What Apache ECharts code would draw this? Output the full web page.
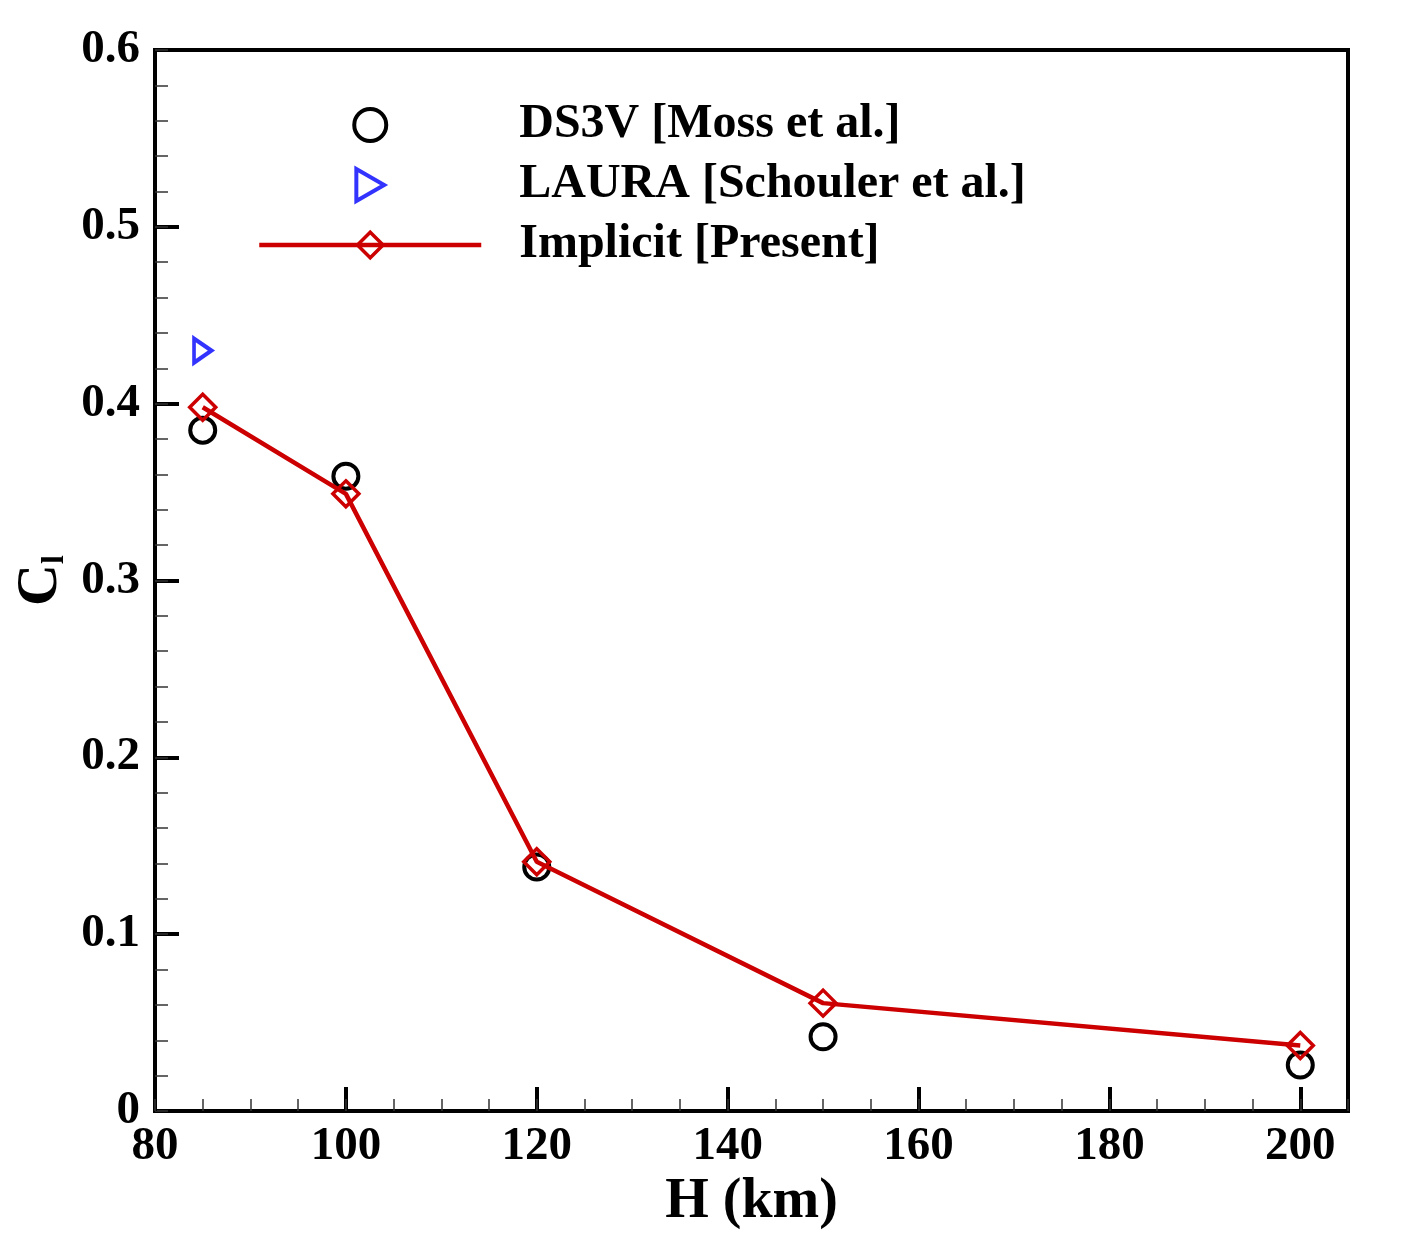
<!DOCTYPE html>
<html>
<head>
<meta charset="utf-8">
<script src="https://cdn.jsdelivr.net/npm/echarts@6/dist/echarts.min.js"></script>
<style>
  html, body { margin: 0; padding: 0; background: #fff; }
  #chart { width: 1406px; height: 1250px; }
</style>
</head>
<body>
<div id="chart"></div>
<script>
'use strict';

// 高度 (km)
const altitudes = [85, 100, 120, 150, 200];
// DS3V [Moss et al.]
const ds3vCl = [0.385, 0.359, 0.138, 0.042, 0.026];
// LAURA [Schouler et al.]
const lauraAlt = [85];
const lauraCl = [0.430];
// Implicit [Present]
const implicitCl = [0.398, 0.349, 0.141, 0.061, 0.037];

const xTicks = [80, 100, 120, 140, 160, 180, 200];
const yTicks = [0, 0.1, 0.2, 0.3, 0.4, 0.5, 0.6];

const FONT = '"Liberation Serif", "Times New Roman", serif';
const RED = '#cc0000';
const BLUE = '#3333ff';

function pairs(xs, ys) {
    return xs.map(function (x, i) { return [x, ys[i]]; });
}

function makeChart() {
    let myChart = echarts.init(document.getElementById('chart'));

    let labelStyle = {
        fontFamily: FONT,
        fontWeight: 'bold',
        fontSize: 47,
        color: '#000'
    };

    myChart.setOption({
        animation: false,
        backgroundColor: '#fff',
        grid: {
            left: 155,
            right: 58,
            top: 50,
            bottom: 139,
            show: true,
            borderColor: '#000',
            borderWidth: 4,
            containLabel: false
        },
        legend: {
            orient: 'vertical',
            left: 257,
            top: 101,
            padding: 0,
            itemWidth: 222,
            itemHeight: 32,
            itemGap: 12,
            selectedMode: false,
            lineStyle: {width: 4.5},
            textStyle: {
                fontFamily: FONT,
                fontWeight: 'bold',
                fontSize: 48,
                lineHeight: 48,
                color: '#000',
                padding: [0, 0, 0, 33]
            },
            data: [
                {name: 'DS3V [Moss et al.]', itemStyle: {borderWidth: 4}},
                {name: 'LAURA [Schouler et al.]', itemStyle: {borderWidth: 4}},
                {name: 'Implicit [Present]', itemStyle: {borderWidth: 3.5}}
            ]
        },
        xAxis: [{
            type: 'value',
            min: 80,
            max: 205,
            interval: 20,
            name: 'H (km)',
            nameLocation: 'middle',
            nameGap: 54,
            nameTextStyle: {
                fontFamily: FONT,
                fontWeight: 'bold',
                fontSize: 56,
                color: '#000'
            },
            axisLine: {onZero: false, lineStyle: {color: '#000', width: 4}},
            axisTick: {inside: true, length: 24, lineStyle: {color: '#000', width: 4}},
            axisLabel: Object.assign({
                margin: 12,
                showMaxLabel: false,
                formatter: function (v) { return xTicks.indexOf(v) >= 0 ? String(v) : ''; }
            }, labelStyle),
            splitLine: {show: false}
        }, {
            // 次刻度
            type: 'value',
            position: 'bottom',
            min: 80,
            max: 205,
            interval: 5,
            axisLine: {show: false},
            axisTick: {inside: true, length: 12, lineStyle: {color: '#333', width: 1.5}},
            axisLabel: {show: false},
            splitLine: {show: false}
        }],
        yAxis: [{
            type: 'value',
            min: 0,
            max: 0.6,
            interval: 0.1,
            name: '{a|C}{b|l}',
            nameLocation: 'middle',
            nameGap: 76,
            nameTextStyle: {
                rich: {
                    a: {fontFamily: FONT, fontWeight: 'bold', fontSize: 58, color: '#000'},
                    b: {fontFamily: FONT, fontWeight: 'bold', fontSize: 32, color: '#000', verticalAlign: 'bottom'}
                }
            },
            axisLine: {onZero: false, lineStyle: {color: '#000', width: 4}},
            axisTick: {inside: true, length: 24, lineStyle: {color: '#000', width: 4}},
            axisLabel: Object.assign({
                margin: 15,
                formatter: function (v) {
                    let r = Math.round(v * 10) / 10;
                    return r === 0 ? '0' : r.toFixed(1);
                }
            }, labelStyle),
            splitLine: {show: false}
        }, {
            type: 'value',
            position: 'left',
            min: 0,
            max: 0.6,
            interval: 0.02,
            axisLine: {show: false},
            axisTick: {inside: true, length: 13, lineStyle: {color: '#333', width: 1.5}},
            axisLabel: {show: false},
            splitLine: {show: false}
        }],
        series: [{
            name: 'DS3V [Moss et al.]',
            type: 'scatter',
            symbol: 'circle',
            symbolSize: 25,
            itemStyle: {color: 'transparent', borderColor: '#000', borderWidth: 4, opacity: 1},
            data: pairs(altitudes, ds3vCl),
            z: 3
        }, {
            name: 'LAURA [Schouler et al.]',
            type: 'scatter',
            symbol: 'path://M0,0L20,11.5L0,23Z',
            symbolSize: [20, 24],
            symbolKeepAspect: true,
            itemStyle: {color: 'transparent', borderColor: BLUE, borderWidth: 4, opacity: 1},
            data: pairs(lauraAlt, lauraCl),
            z: 3
        }, {
            name: 'Implicit [Present]',
            type: 'line',
            symbol: 'diamond',
            symbolSize: 26,
            showAllSymbol: true,
            lineStyle: {color: RED, width: 4.5},
            itemStyle: {color: 'transparent', borderColor: RED, borderWidth: 3.5, opacity: 1},
            data: pairs(altitudes, implicitCl),
            z: 4
        }]
    });
}

makeChart();
</script>
</body>
</html>
